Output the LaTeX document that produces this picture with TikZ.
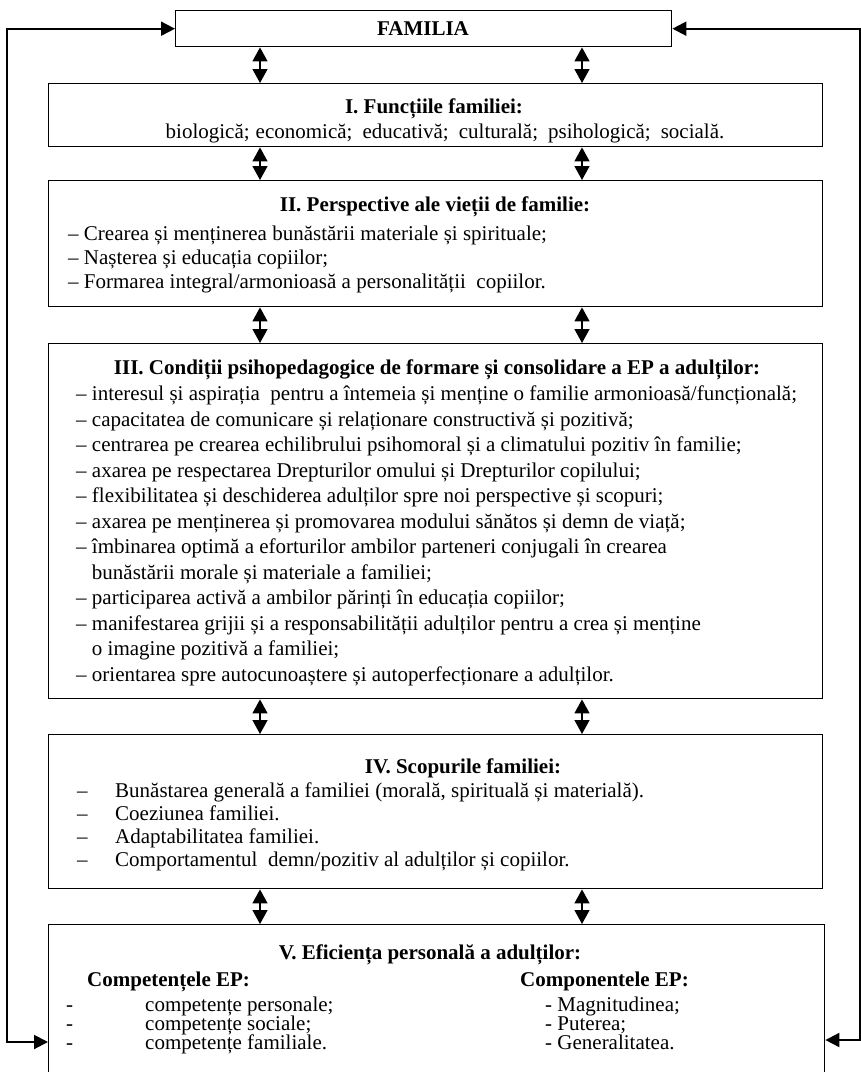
\documentclass[tikz,border=0pt]{standalone}
\usepackage{fontspec}
\setmainfont{Liberation Serif}
\usetikzlibrary{arrows.meta}
\lineskiplimit=-10pt

\tikzset{
  box/.style={draw, line width=1.4pt, anchor=north west, inner sep=0pt},
  txt/.style={anchor=base west, align=left, inner sep=0pt,
    font={\fontsize{21}{#1}\selectfont}},
  txt/.default=24,
  hdr/.style={anchor=base, inner sep=0pt, font={\fontsize{21}{24}\selectfont\bfseries}},
  pairarrow/.style={line width=1.4pt,
    {Triangle[length=14pt,width=15pt]}-{Triangle[length=14pt,width=15pt]}},
  backline/.style={line width=2pt,
    {Triangle[length=14pt,width=14pt]}-{Triangle[length=14pt,width=14pt]}},
}

\begin{document}
\begin{tikzpicture}[x=1pt,y=-1pt]
  \useasboundingbox (0,0) rectangle (861,1072);

  % boxes
  \node[box, minimum width=496pt, minimum height=36pt] (fam) at (175,10) {};
  \node[box, minimum width=774pt, minimum height=63pt] (fun) at (48,83) {};
  \node[box, minimum width=774pt, minimum height=126pt] (per) at (48,180) {};
  \node[box, minimum width=774pt, minimum height=355pt] (cond) at (48,343) {};
  \node[box, minimum width=774pt, minimum height=154pt] (scop) at (48,734) {};
  \node[box, minimum width=776pt, minimum height=170pt] (efic) at (48,924) {};

  % texts (multi-line nodes sit on the baseline of their last line)
  \node[hdr] (famt) at (423,35) {FAMILIA};

  \node[hdr] (funh) at (434,113) {I. Funcții\/le familiei:};
  \node[txt, anchor=base] (funt) at (445,138)
    {biologică;\hspace{6pt}economică;\hspace{10pt}educativă;\hspace{10pt}culturală;\hspace{10pt}psihologică;\hspace{10pt}socială.};

  \node[hdr] (perh) at (435,211) {II. Perspective ale vieții de familie:};
  \node[txt] (pert) at (68,288) {%
    – Crearea și menținerea bunăstării materiale și spirituale;\\
    – Nașterea și educația copiilor;\\
    – Formarea integral/armonioasă a personalității\ \ copiilor.};

  \node[hdr] (condh) at (437,374)
    {III. Condiții psihopedagogice de formare și consolidare a EP a adulților:};
  \node[txt=25.5] (condt) at (76,681) {%
    – interesul și aspirația\ \ pentru a întemeia și menține o familie armonioasă/funcțională;\\
    – capacitatea de comunicare și relaționare constructivă și pozitivă;\\
    – centrarea pe crearea echilibrului psihomoral și a climatului pozitiv în familie;\\
    – axarea pe respectarea Drepturilor omului și Drepturilor copilului;\\
    – flexibilitatea și deschiderea adulților spre noi perspective și scopuri;\\
    – axarea pe menținerea și promovarea modului sănătos și demn de viață;\\
    – îmbinarea optimă a eforturilor ambilor parteneri conjugali în crearea\\
    \hphantom{– }bunăstării morale și materiale a familiei;\\
    – participarea activă a ambilor părinți în educația copiilor;\\
    – manifestarea grijii și a responsabilității adulților pentru a crea și menține\\
    \hphantom{– }o imagine pozitivă a familiei;\\
    – orientarea spre autocunoaștere și autoperfecționare a adulților.};

  \node[hdr] (scoph) at (463,773) {IV. Scopurile familiei:};
  \node[txt=23] (scopt) at (77,866) {%
    \makebox[38pt][l]{–}Bunăstarea generală a familiei (morală, spirituală și materială).\\
    \makebox[38pt][l]{–}Coeziunea familiei.\\
    \makebox[38pt][l]{–}Adaptabilitatea familiei.\\
    \makebox[38pt][l]{–}Comportamentul\ \ demn/pozitiv al adulților și copiilor.};

  \node[hdr] (efich) at (430,959) {V. Eficiența personală a adulților:};
  \node[hdr, anchor=base west] (comph) at (87,986) {Competențele EP:};
  \node[txt=19] (compt) at (66,1049) {%
    \makebox[79pt][l]{-}competențe personale;\\
    \makebox[79pt][l]{-}competențe sociale;\\
    \makebox[79pt][l]{-}competențe familiale.};
  \node[hdr, anchor=base west] (componh) at (520,986) {Componentele EP:};
  \node[txt=19] (compont) at (545,1049) {%
    - Magnitudinea;\\
    - Puterea;\\
    - Generalitatea.};

  % links between the levels
  \coordinate (cl) at (260,0);
  \coordinate (cr) at (582,0);
  \foreach \a/\b in {fam/fun, fun/per, per/cond, cond/scop, scop/efic} {
    \draw[pairarrow] (\a.south -| cl) -- (\b.north -| cl);
    \draw[pairarrow] (\a.south -| cr) -- (\b.north -| cr);
  }

  % feedback lines
  \coordinate (lft) at (7,1042);
  \coordinate (rgt) at (860,1040);
  \draw[backline] (fam.west) -| (lft) -- (lft -| efic.west);
  \draw[backline] (fam.east) -| (rgt) -- (rgt -| efic.east);
\end{tikzpicture}
\end{document}
